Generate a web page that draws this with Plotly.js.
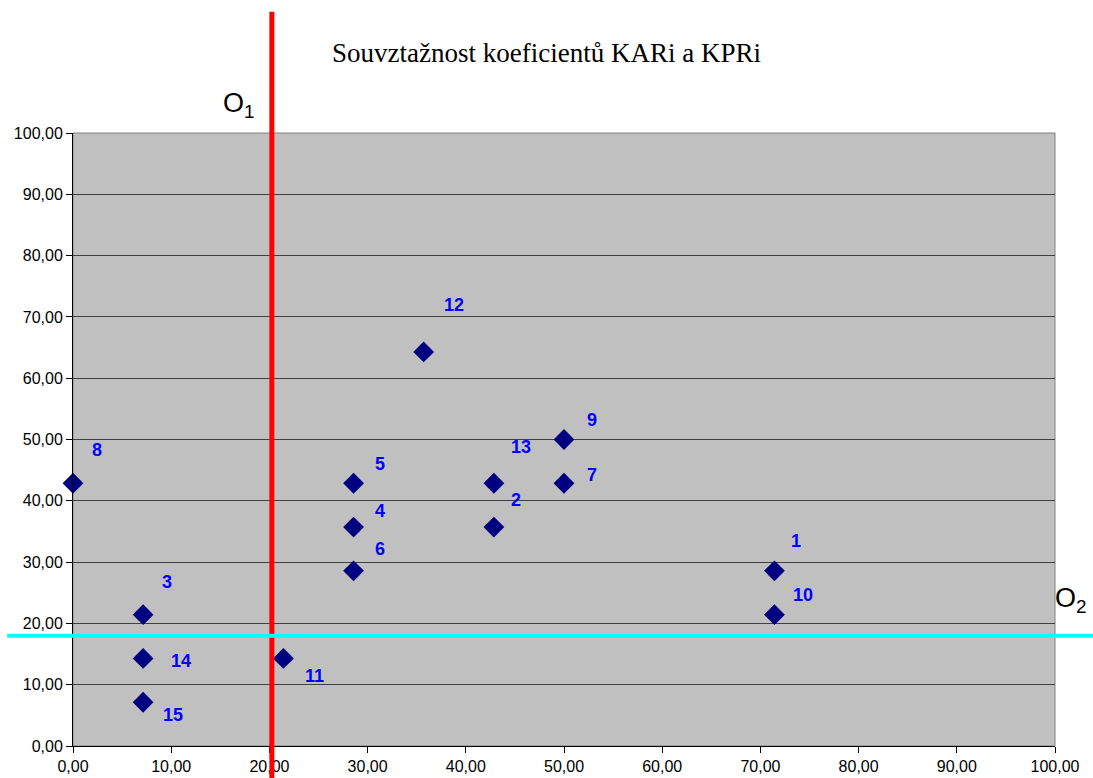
<!DOCTYPE html>
<html>
<head>
<meta charset="utf-8">
<script src="https://cdn.plot.ly/plotly-3.0.1.min.js"></script>
<style>body{margin:0;background:#fff}#chart{width:1093px;height:778px}</style>
</head>
<body>
<div id="chart"></div>
<script>
// Data
const pointIds = ['1','2','3','4','5','6','7','8','9','10','11','12','13','14','15'];
const kar = [71.43, 42.86, 7.14, 28.57, 28.57, 28.57, 50.00, 0.00, 50.00, 71.43, 21.43, 35.71, 42.86, 7.14, 7.14];
const kpr = [28.57, 35.71, 21.43, 35.71, 42.86, 28.57, 42.86, 42.86, 50.00, 21.43, 14.29, 64.29, 42.86, 14.29, 7.14];
const thresholdO1 = 20.25; // KARi threshold (vertical line)
const thresholdO2 = 18;    // KPRi threshold (horizontal line)
const tickVals = [0,10,20,30,40,50,60,70,80,90,100];

// Label offsets in pixels (styling)
const labelShift = {
  '1':[22,30],'2':[22,27],'3':[24,33],'4':[26,16],'5':[26,19],'6':[26,22],'7':[28,8],
  '8':[24,33],'9':[28,20],'10':[29,20],'11':[31,-18],'12':[30,47],'13':[27,36],'14':[38,-3],'15':[30,-13]
};

const trace = {
  x: kar, y: kpr, mode: 'markers', type: 'scatter',
  marker: {symbol: 'diamond', size: 16, color: '#000080', line: {width: 0}},
  hoverinfo: 'x+y', showlegend: false, cliponaxis: false
};

const annotations = pointIds.map((id, i) => ({
  x: kar[i], y: kpr[i], xref: 'x', yref: 'y', text: '<b>' + id + '</b>', showarrow: false,
  xshift: labelShift[id][0], yshift: labelShift[id][1],
  font: {family: 'Liberation Sans, Arial', size: 18, color: '#0000ff', weight: 700},
  xanchor: 'center', yanchor: 'middle'
}));
annotations.push({
  xref: 'paper', yref: 'paper', x: 0.151, y: 1.046, xanchor: 'left', yanchor: 'middle',
  text: 'O<sub>1</sub>', showarrow: false,
  font: {family: 'Liberation Sans, Arial', size: 27, color: '#000'}
});
annotations.push({
  xref: 'paper', yref: 'paper', x: 0.9975, y: 0.238, xanchor: 'left', yanchor: 'middle',
  text: 'O<sub>2</sub>', showarrow: false,
  font: {family: 'Liberation Sans, Arial', size: 27, color: '#000'}
});

const axisCommon = {
  range: [0, 100], tickvals: tickVals, tickformat: '.2f',
  showgrid: true, zeroline: false, showline: true, linecolor: '#000', linewidth: 1,
  ticks: 'outside', ticklen: 6, tickcolor: '#000',
  tickfont: {family: 'Liberation Sans, Arial', size: 16, color: '#000'},
  fixedrange: true
};

const layout = {
  width: 1093, height: 778,
  margin: {l: 73, r: 37.5, t: 133, b: 32.3, pad: 0},
  paper_bgcolor: '#fff', plot_bgcolor: '#c0c0c0',
  separators: ',.',
  title: {
    text: 'Souvztažnost koeficientů KARi a KPRi',
    font: {family: 'Liberation Serif, Times New Roman', size: 27, color: '#000'},
    x: 0.5, xref: 'container', xanchor: 'center', y: 0.933, yref: 'container', yanchor: 'middle'
  },
  xaxis: Object.assign({}, axisCommon, {gridcolor: 'rgba(0,0,0,0)'}),
  yaxis: Object.assign({}, axisCommon, {gridcolor: '#404040', gridwidth: 1}),
  shapes: [
    {type: 'rect', xref: 'paper', yref: 'paper', x0: 0, x1: 1, y0: 0, y1: 1,
     line: {color: '#808080', width: 1}, layer: 'below'},
    {type: 'line', xref: 'paper', yref: 'paper', x0: thresholdO1/100, x1: thresholdO1/100,
     y0: -0.06, y1: 1.198, line: {color: '#ff0000', width: 5}},
    {type: 'line', xref: 'paper', yref: 'paper', x0: -0.067, x1: 1.05,
     y0: thresholdO2/100, y1: thresholdO2/100, line: {color: '#00ffff', width: 4}}
  ],
  annotations: annotations,
  hovermode: 'closest'
};

Plotly.newPlot('chart', [trace], layout, {displayModeBar: false, staticPlot: true});
</script>
</body>
</html>
